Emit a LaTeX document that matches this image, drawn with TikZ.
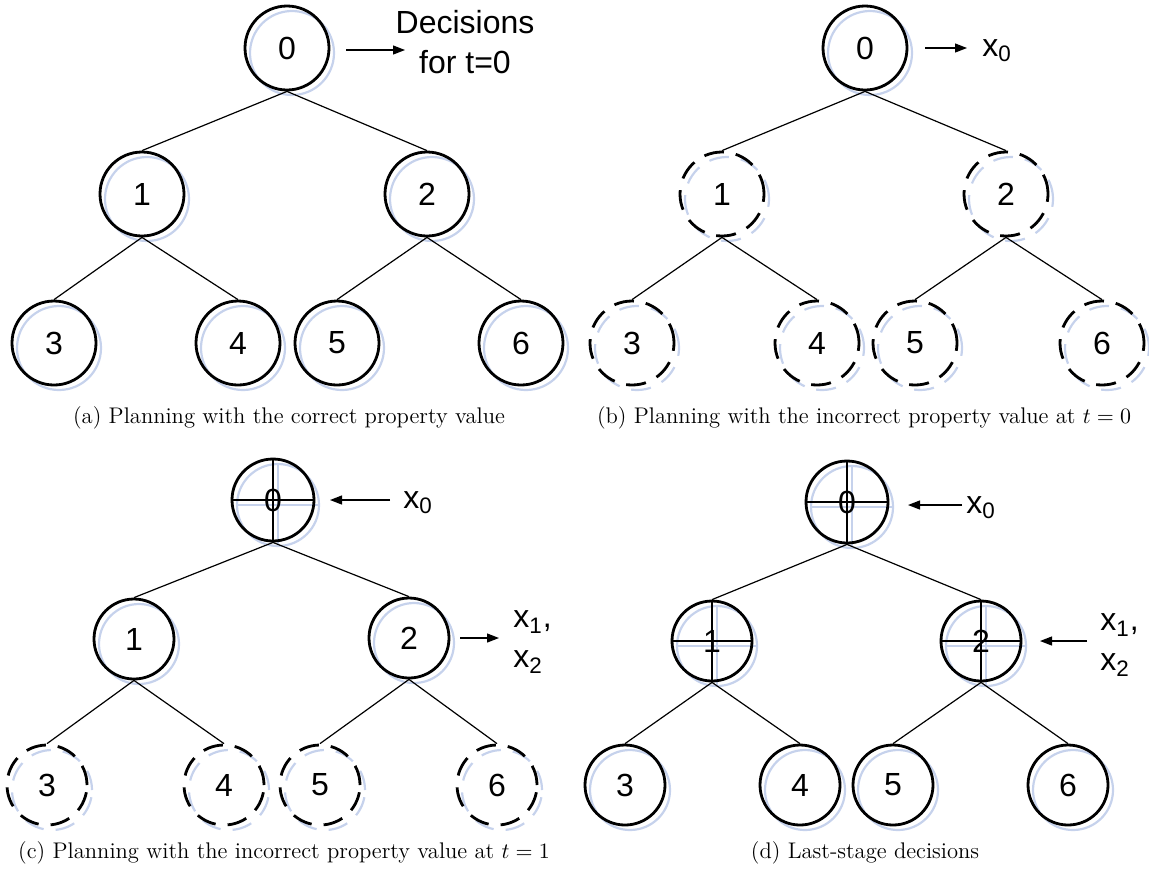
\documentclass[tikz,border=0pt]{standalone}
\usepackage{fontspec}
\newfontfamily\arialf{Liberation Sans}
\usetikzlibrary{arrows.meta,calc}
\definecolor{shblue}{RGB}{198,210,236}
\colorlet{crosscol}{black}
\tikzset{
  tn/.style={circle, draw=black, line width=1.4pt, inner sep=0pt, text=black,
    font=\arialf\fontsize{16}{19}\selectfont, /utils/exec={\colorlet{crosscol}{black}}},
  tns/.style={tn, draw=shblue, line width=1.1pt, /utils/exec={\colorlet{crosscol}{shblue}}},
  dsh/.style={dash pattern=on 10pt off 6pt},
  crs/.style={path picture={\draw[line width=1.4pt, draw=crosscol]
      (path picture bounding box.north) -- (path picture bounding box.south)
      (path picture bounding box.west) -- (path picture bounding box.east);}},
  nostyle/.style={},
  treeedge/.style={line width=0.6pt},
  arr/.style={line width=0.6pt, -{Triangle[length=6pt,width=4.5pt]}},
  lab/.style={font=\arialf\fontsize{16}{20}\selectfont, inner sep=0pt, anchor=west, align=left},
  captxt/.style={font=\fontsize{11.3}{13.6}\selectfont, inner sep=0pt}
}
\newcommand\treenode[6]{%
  \node[tns, minimum size=#4*0.5pt, #6] (#1s) at (#2+5,#3+5) {};
  \node[tn, minimum size=#4*0.5pt, #6] (#1) at (#2,#3) {#5};}
\begin{document}
\begin{tikzpicture}[x=0.5pt,y=-0.5pt]
\useasboundingbox (0,0) rectangle (1149,869);
% ---------------- (a)
\treenode{a0}{287}{48}{84}{0}{nostyle}
\treenode{a1}{142}{194}{84}{1}{nostyle}
\treenode{a2}{427}{194}{84}{2}{nostyle}
\treenode{a3}{54}{343}{84}{3}{nostyle}
\treenode{a4}{238}{343}{84}{4}{nostyle}
\treenode{a5}{337}{343}{84}{5}{nostyle}
\treenode{a6}{521}{343}{84}{6}{nostyle}
\draw[treeedge] (a0.south) -- (a1.north);
\draw[treeedge] (a0.south) -- (a2.north);
\draw[treeedge] (a1.south) -- (a3.north);
\draw[treeedge] (a1.south) -- (a4.north);
\draw[treeedge] (a2.south) -- (a5.north);
\draw[treeedge] (a2.south) -- (a6.north);
\coordinate (aA1) at (346,50);
\coordinate (aA2) at (405,50);
\draw[arr] (aA1) -- (aA2);
\node[lab, anchor=center, align=center] (adec) at (465,42) {Decisions\\for t=0};
\node[captxt] (acap) at (289,418) {(a) Planning with the correct property value};
% ---------------- (b)
\treenode{b0}{865}{48}{84}{0}{nostyle}
\treenode{b1}{722}{194}{84}{1}{dsh}
\treenode{b2}{1006}{194}{84}{2}{dsh}
\treenode{b3}{632}{343}{84}{3}{dsh}
\treenode{b4}{817}{343}{84}{4}{dsh}
\treenode{b5}{915}{343}{84}{5}{dsh}
\treenode{b6}{1102}{343}{84}{6}{dsh}
\draw[treeedge] (b0.south) -- (b1.north);
\draw[treeedge] (b0.south) -- (b2.north);
\draw[treeedge] (b1.south) -- (b3.north);
\draw[treeedge] (b1.south) -- (b4.north);
\draw[treeedge] (b2.south) -- (b5.north);
\draw[treeedge] (b2.south) -- (b6.north);
\coordinate (bA1) at (925,48);
\coordinate (bA2) at (967,48);
\draw[arr] (bA1) -- (bA2);
\node[lab] (bx0) at (982,51) {x\textsubscript{0}};
\node[captxt] (bcap) at (864,418) {(b) Planning with the incorrect property value at $t=0$};
% ---------------- (c)
\treenode{c0}{273}{500}{82}{0}{crs}
\treenode{c1}{134}{639}{80}{1}{nostyle}
\treenode{c2}{409}{638}{80}{2}{nostyle}
\treenode{c3}{47}{785}{80}{3}{dsh}
\treenode{c4}{224}{785}{80}{4}{dsh}
\treenode{c5}{320}{785}{80}{5}{dsh}
\treenode{c6}{497}{785}{80}{6}{dsh}
\draw[treeedge] (c0.south) -- (c1.north);
\draw[treeedge] (c0.south) -- (c2.north);
\draw[treeedge] (c1.south) -- (c3.north);
\draw[treeedge] (c1.south) -- (c4.north);
\draw[treeedge] (c2.south) -- (c5.north);
\draw[treeedge] (c2.south) -- (c6.north);
\coordinate (cA1) at (390,500);
\coordinate (cA2) at (330,500);
\draw[arr] (cA1) -- (cA2);
\node[lab] (cx0) at (403,503) {x\textsubscript{0}};
\coordinate (cB1) at (460,638);
\coordinate (cB2) at (499,638);
\draw[arr] (cB1) -- (cB2);
\node[lab] (cx12) at (513,642) {x\textsubscript{1},\\x\textsubscript{2}};
\node[captxt] (ccap) at (284,853) {(c) Planning with the incorrect property value at $t=1$};
% ---------------- (d)
\treenode{d0}{847}{502}{82}{0}{crs}
\treenode{d1}{712}{641}{80}{1}{crs}
\treenode{d2}{981}{641}{80}{2}{crs}
\treenode{d3}{625}{785}{80}{3}{nostyle}
\treenode{d4}{800}{785}{80}{4}{nostyle}
\treenode{d5}{893}{785}{80}{5}{nostyle}
\treenode{d6}{1068}{785}{80}{6}{nostyle}
\draw[treeedge] (d0.south) -- (d1.north);
\draw[treeedge] (d0.south) -- (d2.north);
\draw[treeedge] (d1.south) -- (d3.north);
\draw[treeedge] (d1.south) -- (d4.north);
\draw[treeedge] (d2.south) -- (d5.north);
\draw[treeedge] (d2.south) -- (d6.north);
\coordinate (dA1) at (962,505);
\coordinate (dA2) at (908,505);
\draw[arr] (dA1) -- (dA2);
\node[lab] (dx0) at (966,508) {x\textsubscript{0}};
\coordinate (dB1) at (1087,641);
\coordinate (dB2) at (1040,641);
\draw[arr] (dB1) -- (dB2);
\node[lab] (dx12) at (1100,645) {x\textsubscript{1},\\x\textsubscript{2}};
\node[captxt] (dcap) at (865,853) {(d) Last-stage decisions};
\end{tikzpicture}
\end{document}
